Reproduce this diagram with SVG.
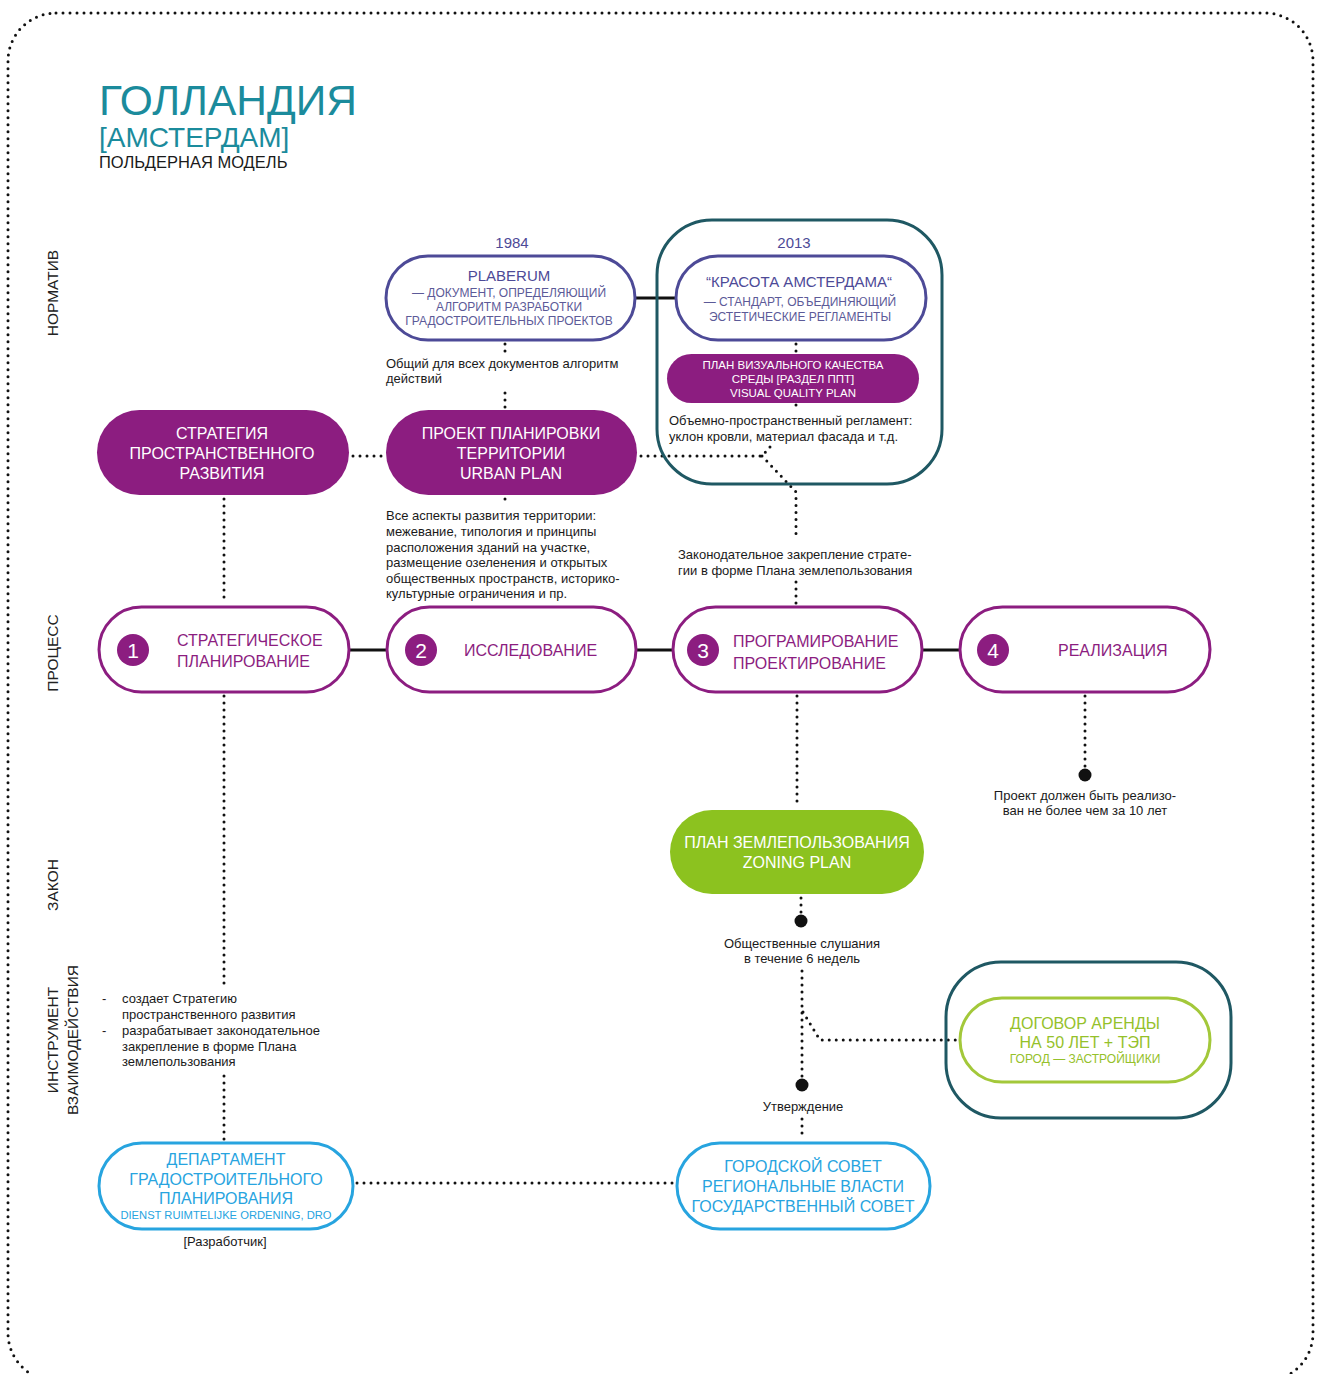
<svg xmlns="http://www.w3.org/2000/svg" width="1324" height="1374" viewBox="0 0 1324 1374">
  <style>
    .t { font-family: "Liberation Sans", Arial, sans-serif; }
    .dot { fill: none; stroke: #111; stroke-width: 3; stroke-linecap: round; stroke-dasharray: 0 7; }
    .solid { fill: none; stroke: #111; stroke-width: 3; }
    .fillP { fill: #8c1d80; }
    .wP { fill: #fff; stroke: #8c1d80; stroke-width: 3; }
    .wI { fill: #fff; stroke: #4d4a97; stroke-width: 3; }
    .frame { fill: none; stroke: #1f5863; stroke-width: 3; }
    .wB { fill: #fff; stroke: #27a4df; stroke-width: 3; }
    .wG { fill: #fff; stroke: #a3c83a; stroke-width: 3; }
    .white { fill: #fff; }
    .purple { fill: #8c1d80; }
    .indigo { fill: #4d4a97; }
    .blue { fill: #27a4df; }
    .green { fill: #95c12a; }
    .lab { font-size: 15.5px; fill: #222; }
    .note { font-size: 13px; fill: #1a1a1a; }
    .cap { font-size: 16px; }
    .sub { font-size: 12px; }
  </style>

  <!-- dotted page frame -->
  <rect x="8" y="13" width="1305" height="1368" rx="48" class="dot"/>

  <!-- title block -->
  <g id="title" class="t">
    <text x="99" y="115" font-size="42.5" fill="#1b8b9c">ГОЛЛАНДИЯ</text>
    <text x="99" y="147" font-size="28" fill="#1b8b9c">[АМСТЕРДАМ]</text>
    <text x="99" y="168" font-size="16.5" fill="#1a1a1a">ПОЛЬДЕРНАЯ МОДЕЛЬ</text>
  </g>

  <!-- row labels -->
  <g id="row-labels" class="t lab" text-anchor="middle">
    <text transform="translate(58,293) rotate(-90)">НОРМАТИВ</text>
    <text transform="translate(58,653) rotate(-90)">ПРОЦЕСС</text>
    <text transform="translate(58,885) rotate(-90)">ЗАКОН</text>
    <text transform="translate(58,1040) rotate(-90)">ИНСТРУМЕНТ</text>
    <text transform="translate(78,1040) rotate(-90)">ВЗАИМОДЕЙСТВИЯ</text>
  </g>

  <!-- connectors -->
  <g id="connectors">
    <line x1="636" y1="298" x2="675" y2="298" class="solid"/>
    <line x1="350" y1="650" x2="387" y2="650" class="solid"/>
    <line x1="636" y1="650" x2="673" y2="650" class="solid"/>
    <line x1="922" y1="650" x2="960" y2="650" class="solid"/>

    <line x1="505" y1="344" x2="505" y2="355" class="dot"/>
    <line x1="505" y1="393" x2="505" y2="408" class="dot"/>
    <line x1="796" y1="344" x2="796" y2="352" class="dot"/>
    <line x1="796" y1="405" x2="796" y2="411" class="dot"/>
    <line x1="353" y1="456" x2="384" y2="456" class="dot"/>
    <path d="M641 456 H762 L770 447 M762 456 L796 492 V540" class="dot"/>
    <line x1="796" y1="582" x2="796" y2="604" class="dot"/>
    <line x1="505" y1="499" x2="505" y2="506" class="dot"/>
    <line x1="224" y1="499" x2="224" y2="604" class="dot"/>

    <line x1="224" y1="696" x2="224" y2="990" class="dot"/>
    <line x1="224" y1="1076" x2="224" y2="1140" class="dot"/>
    <line x1="797" y1="696" x2="797" y2="806" class="dot"/>
    <line x1="1085" y1="696" x2="1085" y2="770" class="dot"/>
    <circle cx="1085" cy="775" r="6.5" fill="#111"/>

    <line x1="801" y1="898" x2="801" y2="916" class="dot"/>
    <circle cx="801" cy="921" r="6.5" fill="#111"/>
    <line x1="802" y1="971" x2="802" y2="1080" class="dot"/>
    <path d="M803 1012 L820 1040 H958" class="dot"/>
    <circle cx="802" cy="1085" r="6.5" fill="#111"/>
    <line x1="802" y1="1119" x2="802" y2="1140" class="dot"/>
    <line x1="357" y1="1183" x2="675" y2="1183" class="dot"/>
  </g>

  <!-- normative row -->
  <g id="plaberum" class="t" text-anchor="middle">
    <text x="512" y="248" font-size="15" class="indigo">1984</text>
    <rect x="386" y="256" width="249" height="84" rx="42" class="wI"/>
    <text x="509" y="281" font-size="15" class="indigo">PLABERUM</text>
    <text x="509" y="297" class="sub" fill="#5c5a98">— ДОКУМЕНТ, ОПРЕДЕЛЯЮЩИЙ</text>
    <text x="509" y="311" class="sub" fill="#5c5a98">АЛГОРИТМ РАЗРАБОТКИ</text>
    <text x="509" y="325" class="sub" fill="#5c5a98">ГРАДОСТРОИТЕЛЬНЫХ ПРОЕКТОВ</text>
  </g>

  <g id="plaberum-note" class="t note">
    <text x="386" y="368">Общий для всех документов алгоритм</text>
    <text x="386" y="383">действий</text>
  </g>

  <g id="beauty-frame">
    <rect x="657" y="220" width="285" height="264" rx="55" class="frame"/>
  </g>

  <g id="beauty" class="t" text-anchor="middle">
    <text x="794" y="248" font-size="15" class="indigo">2013</text>
    <rect x="676" y="256" width="250" height="84" rx="42" class="wI"/>
    <text x="799" y="287" font-size="15" class="indigo">“КРАСОТА АМСТЕРДАМА“</text>
    <text x="800" y="306" class="sub" fill="#5c5a98">— СТАНДАРТ, ОБЪЕДИНЯЮЩИЙ</text>
    <text x="800" y="321" class="sub" fill="#5c5a98">ЭСТЕТИЧЕСКИЕ РЕГЛАМЕНТЫ</text>
  </g>

  <g id="visual-quality" class="t" text-anchor="middle">
    <rect x="667" y="354" width="252" height="49" rx="24.5" class="fillP"/>
    <text x="793" y="369" font-size="11.5" class="white">ПЛАН ВИЗУАЛЬНОГО КАЧЕСТВА</text>
    <text x="793" y="383" font-size="11.5" class="white">СРЕДЫ [РАЗДЕЛ ППТ]</text>
    <text x="793" y="397" font-size="11.5" class="white">VISUAL QUALITY PLAN</text>
  </g>

  <g id="visual-quality-note" class="t note">
    <text x="669" y="425">Объемно-пространственный регламент:</text>
    <text x="669" y="441">уклон кровли, материал фасада и т.д.</text>
  </g>

  <g id="strategy" class="t cap white" text-anchor="middle">
    <rect x="97" y="410" width="252" height="85" rx="42.5" class="fillP"/>
    <text x="222" y="439">СТРАТЕГИЯ</text>
    <text x="222" y="459">ПРОСТРАНСТВЕННОГО</text>
    <text x="222" y="479">РАЗВИТИЯ</text>
  </g>

  <g id="urban-plan" class="t cap white" text-anchor="middle">
    <rect x="386" y="410" width="251" height="85" rx="42.5" class="fillP"/>
    <text x="511" y="439">ПРОЕКТ ПЛАНИРОВКИ</text>
    <text x="511" y="459">ТЕРРИТОРИИ</text>
    <text x="511" y="479">URBAN PLAN</text>
  </g>

  <g id="urban-plan-note" class="t note">
    <text x="386" y="520">Все аспекты развития территории:</text>
    <text x="386" y="536">межевание, типология и принципы</text>
    <text x="386" y="552">расположения зданий на участке,</text>
    <text x="386" y="567">размещение озеленения и открытых</text>
    <text x="386" y="583">общественных пространств, историко-</text>
    <text x="386" y="598">культурные ограничения и пр.</text>
  </g>

  <g id="law-note" class="t note">
    <text x="678" y="559">Законодательное закрепление страте-</text>
    <text x="678" y="575">гии в форме Плана землепользования</text>
  </g>

  <!-- process row -->
  <g id="step1" class="t">
    <rect x="99" y="607" width="250" height="85" rx="42.5" class="wP"/>
    <circle cx="133" cy="650" r="16" class="purple"/>
    <text x="133" y="658" font-size="21" class="white" text-anchor="middle">1</text>
    <text x="177" y="646" class="cap purple">СТРАТЕГИЧЕСКОЕ</text>
    <text x="177" y="667" class="cap purple">ПЛАНИРОВАНИЕ</text>
  </g>

  <g id="step2" class="t">
    <rect x="387" y="607" width="249" height="85" rx="42.5" class="wP"/>
    <circle cx="421" cy="650" r="16" class="purple"/>
    <text x="421" y="658" font-size="21" class="white" text-anchor="middle">2</text>
    <text x="464" y="656" class="cap purple">ИССЛЕДОВАНИЕ</text>
  </g>

  <g id="step3" class="t">
    <rect x="673" y="607" width="249" height="85" rx="42.5" class="wP"/>
    <circle cx="703" cy="650" r="16" class="purple"/>
    <text x="703" y="658" font-size="21" class="white" text-anchor="middle">3</text>
    <text x="733" y="647" class="cap purple">ПРОГРАМИРОВАНИЕ</text>
    <text x="733" y="669" class="cap purple">ПРОЕКТИРОВАНИЕ</text>
  </g>

  <g id="step4" class="t">
    <rect x="960" y="607" width="250" height="85" rx="42.5" class="wP"/>
    <circle cx="993" cy="650" r="16" class="purple"/>
    <text x="993" y="658" font-size="21" class="white" text-anchor="middle">4</text>
    <text x="1058" y="656" class="cap purple">РЕАЛИЗАЦИЯ</text>
  </g>

  <g id="deadline-note" class="t note" text-anchor="middle">
    <text x="1085" y="800">Проект должен быть реализо-</text>
    <text x="1085" y="815">ван не более чем за 10 лет</text>
  </g>

  <!-- law row -->
  <g id="zoning-plan" class="t cap white" text-anchor="middle">
    <rect x="670" y="810" width="254" height="84" rx="42" fill="#8cc21f"/>
    <text x="797" y="848">ПЛАН ЗЕМЛЕПОЛЬЗОВАНИЯ</text>
    <text x="797" y="868">ZONING PLAN</text>
  </g>

  <g id="hearing-note" class="t note" text-anchor="middle">
    <text x="802" y="948">Общественные слушания</text>
    <text x="802" y="963">в течение 6 недель</text>
  </g>

  <g id="approval-note" class="t note" text-anchor="middle">
    <text x="803" y="1111">Утверждение</text>
  </g>

  <!-- interaction tools -->
  <g id="lease-frame">
    <rect x="946" y="962" width="285" height="156" rx="55" class="frame"/>
  </g>

  <g id="lease" class="t" text-anchor="middle">
    <rect x="960" y="998" width="250" height="84" rx="42" class="wG"/>
    <text x="1085" y="1029" class="cap green">ДОГОВОР АРЕНДЫ</text>
    <text x="1085" y="1048" class="cap green">НА 50 ЛЕТ + ТЭП</text>
    <text x="1085" y="1063" class="sub green">ГОРОД — ЗАСТРОЙЩИКИ</text>
  </g>

  <g id="dro-note" class="t note">
    <text x="102" y="1003">-</text>
    <text x="122" y="1003">создает Стратегию</text>
    <text x="122" y="1019">пространственного развития</text>
    <text x="102" y="1035">-</text>
    <text x="122" y="1035">разрабатывает законодательное</text>
    <text x="122" y="1051">закрепление в форме Плана</text>
    <text x="122" y="1066">землепользования</text>
  </g>

  <g id="dro" class="t" text-anchor="middle">
    <rect x="99" y="1143" width="254" height="86" rx="43" class="wB"/>
    <text x="226" y="1165" class="cap blue">ДЕПАРТАМЕНТ</text>
    <text x="226" y="1185" class="cap blue">ГРАДОСТРОИТЕЛЬНОГО</text>
    <text x="226" y="1204" class="cap blue">ПЛАНИРОВАНИЯ</text>
    <text x="226" y="1219" font-size="11.2" class="blue">DIENST RUIMTELIJKE ORDENING, DRO</text>
    <text x="225" y="1246" class="note" fill="#1a1a1a">[Разработчик]</text>
  </g>

  <g id="council" class="t cap blue" text-anchor="middle">
    <rect x="677" y="1143" width="253" height="86" rx="43" class="wB"/>
    <text x="803" y="1172">ГОРОДСКОЙ СОВЕТ</text>
    <text x="803" y="1192">РЕГИОНАЛЬНЫЕ ВЛАСТИ</text>
    <text x="803" y="1212">ГОСУДАРСТВЕННЫЙ СОВЕТ</text>
  </g>
</svg>
